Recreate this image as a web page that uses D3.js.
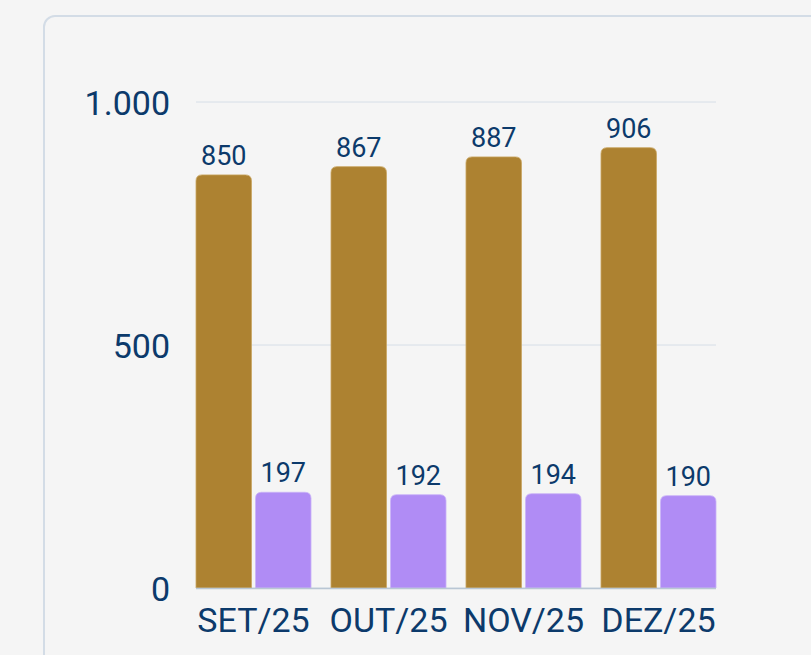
<!DOCTYPE html>
<html><head><meta charset="utf-8">
<script src="https://cdn.jsdelivr.net/npm/d3@7"></script>
<style>
html,body{margin:0;padding:0;background:#f5f5f5;}
svg{display:block;}
text{font-family:Roboto,"Noto Sans",sans-serif;fill:#0c3a6b;}
</style></head>
<body>
<svg id="chart" width="811" height="655"></svg>
<script>
const categories = ["SET/25","OUT/25","NOV/25","DEZ/25"];
const seriesNames = ["A","B"];
const seriesA = [850, 867, 887, 906];
const seriesB = [197, 192, 194, 190];
const yTicks = [0, 500, 1000];
const colors = ["#ad8231", "#b08cf5"];

const svg = d3.select("#chart");
// card
svg.append("rect").attr("x",44).attr("y",16).attr("width",820).attr("height",700)
  .attr("rx",11).attr("fill","#f5f5f5").attr("stroke","#d3dce6").attr("stroke-width",2);

const mLeft = 196, mRight = 716, mTop = 102, mBottom = 588;
const y = d3.scaleLinear().domain([0,1000]).range([mBottom, mTop]);
const x0 = d3.scaleBand().domain(categories).range([mLeft,mRight]).paddingInner(0.148).paddingOuter(0);
const x1 = d3.scaleBand().domain(seriesNames).range([0,x0.bandwidth()]).paddingInner(0.068);

// gridlines
svg.append("g").selectAll("line").data(yTicks).join("line")
  .attr("x1",mLeft).attr("x2",mRight).attr("y1",d=>y(d)).attr("y2",d=>y(d))
  .attr("stroke","#d6dee7").attr("stroke-width",1);

// y labels
const fmt = d3.formatLocale({decimal:",",thousands:".",grouping:[3],currency:["R$",""]}).format(",");
const yAxis = d3.axisLeft(y).tickValues(yTicks).tickFormat(fmt).tickSize(0).tickPadding(26);
const ya = svg.append("g").attr("transform",`translate(${mLeft},0)`).call(yAxis);
ya.select(".domain").remove();
ya.selectAll("text").attr("font-size",34).attr("fill","#0c3a6b").attr("font-family","Roboto").attr("dy","0.36em");

const rows = categories.map((c,i)=>({cat:c, vals:[{s:"A",v:seriesA[i]},{s:"B",v:seriesB[i]}]}));

function topRounded(x, yTop, w, h, r){
  r = Math.min(r, h, w/2);
  return `M${x},${yTop+h}V${yTop+r}Q${x},${yTop} ${x+r},${yTop}H${x+w-r}Q${x+w},${yTop} ${x+w},${yTop+r}V${yTop+h}Z`;
}

const g = svg.append("g").selectAll("g").data(rows).join("g")
  .attr("transform",d=>`translate(${x0(d.cat)},0)`);
g.selectAll("path").data(d=>d.vals).join("path")
  .attr("d",d=>topRounded(x1(d.s), y(d.v), x1.bandwidth(), y(0)-y(d.v), 6))
  .attr("fill",(d,i)=>colors[i])
  .attr("stroke",(d,i)=>i===0?"#c9a662":"#c9b2f8").attr("stroke-width",0.8);
g.selectAll("text").data(d=>d.vals).join("text")
  .attr("x",d=>x1(d.s)+x1.bandwidth()/2).attr("y",d=>y(d.v)-10)
  .attr("text-anchor","middle").attr("font-size",27).text(d=>d.v);

// baseline
svg.append("line").attr("x1",mLeft).attr("x2",mRight).attr("y1",y(0)+0.5).attr("y2",y(0)+0.5)
  .attr("stroke","#b9c6d4").attr("stroke-width",1.5);

// x axis
const xAxis = d3.axisBottom(x0).tickSize(0).tickPadding(20);
const xa = svg.append("g").attr("transform",`translate(0,${mBottom})`).call(xAxis);
xa.select(".domain").remove();
xa.selectAll("text").attr("font-size",34).attr("fill","#0c3a6b").attr("font-family","Roboto");
</script>
</body></html>
